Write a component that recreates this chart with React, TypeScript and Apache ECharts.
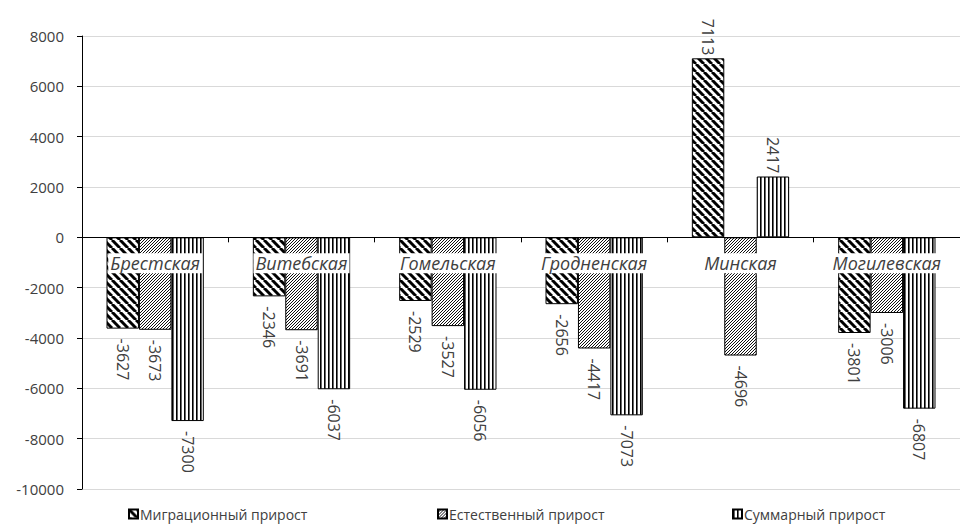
import React, { useEffect, useRef } from "react";
import * as echarts from "echarts";

const categories = ["Брестская", "Витебская", "Гомельская", "Гродненская", "Минская", "Могилевская"];
const seriesNames = ["Миграционный прирост", "Естественный прирост", "Суммарный прирост"];
const migration = [-3627, -2346, -2529, -2656, 7113, -3801];
const natural = [-3673, -3691, -3527, -4417, -4696, -3006];
const total = [-7300, -6037, -6056, -7073, 2417, -6807];
const yMin = -10000;
const yMax = 8000;
const yStep = 2000;

const FONT = "'Open Sans', 'Noto Sans', sans-serif";
const TEXT = "#404040";

function makeTile(kind: number): HTMLCanvasElement {
  const c = document.createElement("canvas");
  const ctx = c.getContext("2d")!;
  if (kind === 0) {
    const n = 8;
    c.width = n; c.height = n;
    ctx.fillStyle = "#fff"; ctx.fillRect(0, 0, n, n);
    ctx.strokeStyle = "#000"; ctx.lineWidth = 3;
    for (const o of [-n, 0, n]) {
      ctx.beginPath(); ctx.moveTo(o, 0); ctx.lineTo(o + n, n); ctx.stroke();
    }
  } else if (kind === 1) {
    const n = 3;
    c.width = n; c.height = n;
    ctx.fillStyle = "#fff"; ctx.fillRect(0, 0, n, n);
    ctx.strokeStyle = "#111"; ctx.lineWidth = 1;
    for (const o of [-n, 0, n]) {
      ctx.beginPath(); ctx.moveTo(o, n); ctx.lineTo(o + n, 0); ctx.stroke();
    }
  } else {
    c.width = 4; c.height = 4;
    ctx.fillStyle = "#fff"; ctx.fillRect(0, 0, 4, 4);
    ctx.fillStyle = "#000"; ctx.fillRect(0, 0, 1.6, 4);
  }
  return c;
}

export default function App() {
  const ref = useRef<HTMLDivElement>(null);
  useEffect(() => {
    if (!ref.current) return;
    const chart = echarts.init(ref.current, null, { renderer: "svg" });
    const all = [migration, natural, total];
    const legendLefts = [128, 437, 732];
    const series: any[] = all.map((vals, i) => ({
      name: seriesNames[i],
      type: "bar",
      barGap: "0%",
      barCategoryGap: "33.5%",
      itemStyle: {
        color: { image: makeTile(i), repeat: "repeat" },
        borderColor: "#000",
        borderWidth: 1,
      },
      label: {
        show: true,
        position: "outside",
        rotate: -90,
        distance: 10,
        verticalAlign: "middle",
        fontSize: 16,
        fontFamily: FONT,
        color: TEXT,
      },
      data: vals.map((v) => ({
        value: v,
        label: { align: v < 0 ? "left" : "right", distance: v < 0 ? 10 : 3 },
      })),
    }));
    series.push({
      type: "scatter",
      silent: true,
      z: 10,
      symbolSize: 1,
      itemStyle: { color: "rgba(255,255,255,0)", opacity: 1 },
      data: categories.map(() => 0),
      label: {
        show: true,
        position: "inside",
        offset: [0, 26],
        formatter: (p: any) => categories[p.dataIndex],
        fontStyle: "italic",
        fontSize: 18,
        fontFamily: FONT,
        color: TEXT,
        opacity: 1,
        backgroundColor: "#ffffff",
        padding: [0, 2, 0, 2],
        lineHeight: 20,
      },
    });
    chart.setOption({
      animation: false,
      textStyle: { fontFamily: FONT },
      grid: { left: 82, right: -6, top: 36, bottom: 36, containLabel: false },
      legend: seriesNames.map((n, i) => ({
        data: [n],
        left: legendLefts[i],
        top: 507,
        padding: 0,
        itemWidth: 9,
        itemHeight: 9,
        itemGap: 0,
        icon: "rect",
        textStyle: { fontSize: 14, color: TEXT, fontFamily: FONT, padding: [0, 0, 0, -3] },
        selectedMode: false,
      })),
      xAxis: {
        type: "category",
        data: categories,
        z: 10,
        axisLine: { onZero: true, lineStyle: { color: "#000", width: 1 } },
        axisTick: { show: true, inside: false, length: 5, lineStyle: { color: "#000" } },
        axisLabel: { show: false },
      },
      yAxis: {
        type: "value",
        min: yMin,
        max: yMax,
        interval: yStep,
        axisLine: { show: true, lineStyle: { color: "#000" } },
        axisTick: { show: true, length: 5, lineStyle: { color: "#000" } },
        axisLabel: {
          fontSize: 15,
          fontFamily: FONT,
          color: TEXT,
          margin: 18,
          formatter: (v: number) => String(v),
        },
        splitLine: { show: true, lineStyle: { color: "#d9d9d9" } },
      },
      series,
    });
    return () => chart.dispose();
  }, []);
  return <div ref={ref} style={{ position: "absolute", left: 0, top: 0, width: 960, height: 525 }} />;
}
